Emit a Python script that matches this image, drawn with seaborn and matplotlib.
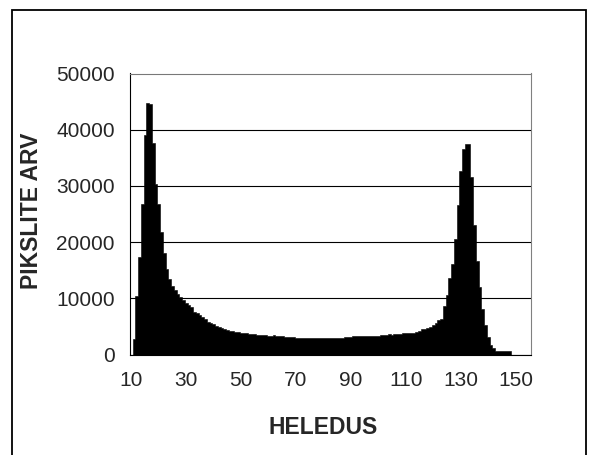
import matplotlib
matplotlib.use("Agg")
import matplotlib.pyplot as plt
import matplotlib.patches as mpatches
import pandas as pd
import seaborn as sns

# brightness levels (category axis) and pixel counts
heledus = list(range(10, 156))
piksleid = [
    0, 2800, 10400, 17300, 26700, 39000, 44700, 44600, 37600, 30400,          # 10-19
    26700, 21800, 18000, 15300, 13400, 12100, 11400, 10700, 10200, 9700,      # 20-29
    9100, 8800, 8400, 7600, 7300, 7000, 6700, 6300, 5800, 5550,               # 30-39
    5350, 5150, 4950, 4800, 4550, 4400, 4250, 4150, 4050, 3950,               # 40-49
    3900, 3800, 3750, 3700, 3650, 3600, 3550, 3500, 3450, 3400,               # 50-59
    3350, 3350, 3400, 3350, 3300, 3250, 3150, 3100, 3050, 3050,               # 60-69
    3000, 3000, 2980, 2970, 2980, 2960, 2970, 2980, 2960, 2970,               # 70-79
    2980, 2990, 2980, 2990, 3000, 2990, 3000, 3010, 3050, 3150,               # 80-89
    3200, 3250, 3250, 3250, 3280, 3250, 3270, 3280, 3300, 3300,               # 90-99
    3350, 3400, 3450, 3550, 3600, 3550, 3600, 3700, 3700, 3750,               # 100-109
    3750, 3800, 3800, 3850, 3950, 4230, 4450, 4460, 4640, 4940,               # 110-119
    5240, 5650, 6130, 6370, 8630, 10600, 13570, 16130, 20540, 26670,          # 120-129
    32740, 36490, 37500, 37500, 31550, 22980, 16670, 12080, 8100, 5240,       # 130-139
    3150, 1670, 1070, 700, 650, 650, 650, 650, 600, 0,                        # 140-149
    0, 0, 0, 0, 0, 0,                                                         # 150-155
]
y_ticks = [0, 10000, 20000, 30000, 40000, 50000]
x_labels = [10, 30, 50, 70, 90, 110, 130, 150]

df = pd.DataFrame({"heledus": heledus, "piksleid": piksleid})

sns.set_theme(style="white")
plt.rcParams["font.family"] = ["Liberation Sans", "DejaVu Sans"]

fig = plt.figure(figsize=(5.9, 4.55), dpi=100)
ax = fig.add_axes([130 / 590, 1 - 354.5 / 455, 400.7 / 590, 281 / 455])

# filled step outline = contiguous bars without hairline gaps
sns.histplot(
    data=df, x="heledus", weights="piksleid", discrete=True,
    element="step", fill=True, color="black", alpha=1,
    edgecolor="black", linewidth=0.4, ax=ax,
)

ax.set_xlim(9.5, 155.5)
ax.set_ylim(0, 50000)

# horizontal gridlines only, drawn black like the original
ax.set_yticks(y_ticks)
ax.set_yticklabels([str(v) for v in y_ticks], fontsize=15)
ax.yaxis.grid(True, color="black", linewidth=0.8)
ax.set_axisbelow(False)
for line in ax.get_ygridlines():
    line.set_zorder(0.5)

# category-style x axis: ticks between categories, labels on every 20th
ax.set_xticks(x_labels)
ax.set_xticklabels([str(v) for v in x_labels], fontsize=15)
ax.set_xticks([9.5 + 10 * i for i in range(15)], minor=True)
ax.tick_params(axis="x", which="major", length=0, pad=12)
ax.tick_params(axis="x", which="minor", length=6, width=0.8, color="black", direction="out")
ax.tick_params(axis="y", length=6, width=0.8, color="black", direction="out", pad=5)

ax.spines["left"].set_color("black")
ax.spines["bottom"].set_color("black")
ax.spines["right"].set_color("#808080")
ax.spines["top"].set_color("#808080")
for s in ax.spines.values():
    s.set_linewidth(0.8)

ax.set_xlabel("HELEDUS", fontsize=16.5, fontweight="bold", va="center")
ax.set_ylabel("PIKSLITE ARV", fontsize=16.5, fontweight="bold", va="center")
ax.xaxis.set_label_coords((323 - 130) / 400.7, (354.5 - 427) / 281)
ax.yaxis.set_label_coords((31.3 - 130) / 400.7, (354.5 - 211) / 281)

# chart-area border
fig.patches.append(mpatches.Rectangle(
    (12 / 590, -0.02), (586 - 12) / 590, 1.02 - 10 / 455,
    transform=fig.transFigure, fill=False, edgecolor="black", linewidth=1.3,
))

fig.savefig("out.png", dpi=100)
plt.close(fig)
